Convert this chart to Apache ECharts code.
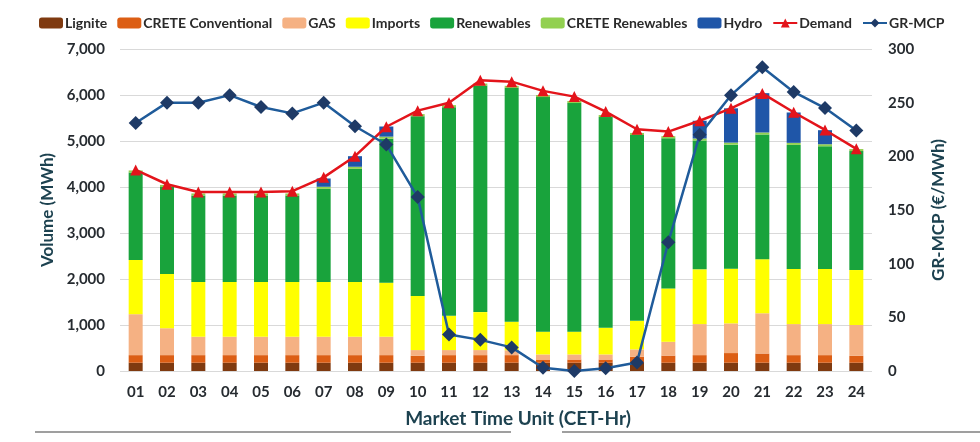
<!DOCTYPE html>
<html><head><meta charset="utf-8">
<script src="https://cdn.jsdelivr.net/npm/echarts@6/dist/echarts.min.js"></script>
<style>html,body{margin:0;padding:0;background:#fff}#c{width:980px;height:442px}</style>
</head><body><div id="c"></div>
<script>
const hours = ['01','02','03','04','05','06','07','08','09','10','11','12','13','14','15','16','17','18','19','20','21','22','23','24'];
const lignite = [180,180,180,180,180,180,180,180,180,180,180,180,180,180,180,180,180,180,180,180,180,180,180,180];
const creteConventional = [165,165,165,165,165,165,165,165,165,150,165,165,165,70,70,70,130,155,165,210,200,165,165,150];
const gas = [890,585,400,400,400,400,400,400,400,125,110,110,105,110,110,110,160,300,675,645,875,675,675,670];
const imports = [1180,1180,1190,1190,1190,1190,1190,1190,1175,1175,745,825,620,495,495,580,620,1160,1190,1190,1175,1200,1200,1195];
const renewables = [1900,1890,1880,1880,1880,1880,2025,2460,3130,3910,4535,4925,5085,5100,4970,4580,4040,3265,2800,2695,2710,2695,2665,2585];
const creteRenewables = [45,45,45,45,45,45,45,45,45,45,45,45,45,45,45,45,45,45,45,45,45,45,45,45];
const hydro = [0,0,0,0,0,0,180,230,220,0,0,0,0,0,0,0,0,0,385,745,855,660,305,0];
const demand = [4370,4060,3890,3890,3890,3910,4210,4670,5310,5660,5830,6320,6290,6090,5965,5640,5255,5205,5440,5710,6035,5625,5240,4830];
const grMcp = [231,250,250,257,246,240,250,228,211,162,34,29,22,3,0,2.5,8,120,220,257,283,260,245,224];
const leftTicks = {min:0, max:7000, interval:1000};
const rightTicks = {min:0, max:300, interval:50};

const FONT = 'Lato';
const tickColor = '#262b30';
const nameColor = '#1d4250';
const chart = echarts.init(document.getElementById('c'));
function bar(name, data, color){
  return {name, type:'bar', stack:'total', data, barWidth:14, itemStyle:{color}, emphasis:{disabled:true}};
}
chart.setOption({
  animation:false,
  textStyle:{fontFamily:FONT},
  legend:{
    top:11, left:34, itemWidth:24, itemHeight:11, itemGap:10,
    textStyle:{fontFamily:FONT, fontWeight:'bold', fontSize:14, color:'#2a2a2a', padding:[0,0,0,-3]},
    data:['Lignite','CRETE Conventional','GAS','Imports','Renewables','CRETE Renewables','Hydro','Demand','GR-MCP']
  },
  grid:{left:120, right:108, top:49, bottom:71},
  xAxis:{
    type:'category', data:hours,
    axisTick:{show:false}, axisLine:{show:false},
    axisLabel:{fontFamily:FONT, fontWeight:'bold', fontSize:15, color:tickColor, margin:14},
    name:'Market Time Unit (CET-Hr)', nameLocation:'middle', nameGap:38,
    nameTextStyle:{fontFamily:FONT, fontWeight:'bold', fontSize:19, color:nameColor, padding:[0,0,0,44]}
  },
  yAxis:[{
    type:'value', min:leftTicks.min, max:leftTicks.max, interval:leftTicks.interval,
    axisLine:{show:false}, axisTick:{show:false},
    splitLine:{lineStyle:{color:'#d9d9d9', width:1}},
    axisLabel:{fontFamily:FONT, fontWeight:'bold', fontSize:15, color:tickColor, margin:15,
      formatter:v=>v.toLocaleString('en-US')},
    name:'Volume (MWh)', nameLocation:'middle', nameGap:63, nameRotate:90,
    nameTextStyle:{fontFamily:FONT, fontWeight:'bold', fontSize:17, color:nameColor}
  },{
    type:'value', min:rightTicks.min, max:rightTicks.max, interval:rightTicks.interval,
    axisLine:{show:false}, axisTick:{show:false}, splitLine:{show:false},
    axisLabel:{fontFamily:FONT, fontWeight:'bold', fontSize:15, color:tickColor, margin:16},
    name:'GR-MCP (€/MWh)', nameLocation:'middle', nameGap:58, nameRotate:90,
    nameTextStyle:{fontFamily:FONT, fontWeight:'bold', fontSize:17, color:nameColor}
  }],
  graphic:[
    {type:'line', shape:{x1:35,y1:432,x2:511,y2:432}, style:{stroke:'#7f7f7f', lineWidth:1.5}},
    {type:'line', shape:{x1:562,y1:432,x2:980,y2:432}, style:{stroke:'#7f7f7f', lineWidth:1.5}}
  ],
  series:[
    bar('Lignite', lignite, '#7f3a10'),
    bar('CRETE Conventional', creteConventional, '#dc5e14'),
    bar('GAS', gas, '#f5b183'),
    bar('Imports', imports, '#ffff00'),
    bar('Renewables', renewables, '#19a33c'),
    bar('CRETE Renewables', creteRenewables, '#92d050'),
    bar('Hydro', hydro, '#1f56a8'),
    {name:'Demand', type:'line', data:demand, yAxisIndex:0, symbol:'triangle', symbolSize:11,
      lineStyle:{color:'#e3141b', width:2.5}, itemStyle:{color:'#e3141b'}, z:5},
    {name:'GR-MCP', type:'line', data:grMcp, yAxisIndex:1, symbol:'diamond', symbolSize:14,
      lineStyle:{color:'#1f5b9a', width:2.5}, itemStyle:{color:'#1e3a66'}, z:6}
  ]
});
</script></body></html>
